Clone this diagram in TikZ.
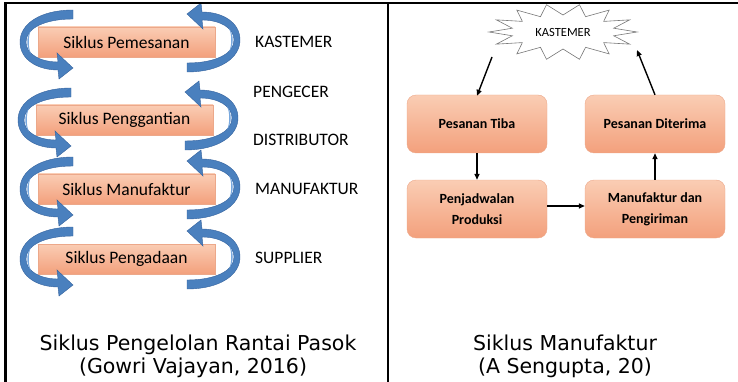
\documentclass[tikz,border=0pt]{standalone}
\usepackage{fontspec}
\setmainfont{Carlito}
\newfontfamily\capfont{DejaVu Sans}
\usetikzlibrary{arrows.meta,calc}

\definecolor{boxtop}{RGB}{250,205,180}
\definecolor{boxbot}{RGB}{243,160,124}
\definecolor{boxline}{RGB}{236,168,138}
\definecolor{ribbon}{RGB}{74,128,190}
\definecolor{ribbondark}{RGB}{52,98,158}
\definecolor{ribbonlight}{RGB}{120,168,222}
\definecolor{starline}{RGB}{120,120,120}

\tikzset{
  cyclebox/.style={draw=boxline, line width=0.4pt, top color=boxtop, bottom color=boxbot,
    minimum width=177pt, minimum height=30pt, inner sep=0pt,
    font=\fontsize{17.5}{20}\selectfont},
  actor/.style={anchor=west, inner sep=0pt, font=\fontsize{17.5}{20}\selectfont},
  flowbox/.style={draw=boxline, line width=0.4pt, rounded corners=9pt,
    top color=boxtop, bottom color=boxbot,
    minimum width=140pt, minimum height=58pt, inner sep=0pt, align=center,
    font=\fontsize{14}{21}\selectfont\bfseries},
  flow/.style={line width=1.4pt, -{Triangle[length=6pt,width=5pt]}},
  caption/.style={anchor=base, inner sep=0pt, font=\capfont\fontsize{20.5}{24}\selectfont},
  tableline/.style={line width=2.6pt, line cap=rect},
  % curved ribbon arrow running round the left end of a cycle box
  loopribbon/.pic={
    \fill[ribbon, draw=ribbondark, line width=0.4pt]
      (-57,-32) .. controls (-90,-32) and (-110,-18) .. (-110,0)
      .. controls (-110,18) and (-92,28) .. (-72,28)
      -- (-71,37) -- (-57,26) -- (-73,11) -- (-72,20)
      .. controls (-90,20) and (-104,12) .. (-104,0)
      .. controls (-104,-14) and (-85,-23) .. (-57,-23) -- cycle;
    \fill[ribbonlight]
      (-99,-12) .. controls (-104,-5) and (-104,5) .. (-99,12)
      .. controls (-102,5) and (-102,-5) .. (-99,-12) -- cycle;
  }
}

\begin{document}
\begin{tikzpicture}[x=1pt, y=-1pt]
\useasboundingbox (0,0) rectangle (738,382);

% ---- supply chain cycles ----
\node[cyclebox] (pesan) at (126.5,42) {Siklus Pemesanan};
\node[cyclebox] (ganti) at (124.5,120) {Siklus Penggantian};
\node[cyclebox] (manu)  at (126.5,189) {Siklus Manufaktur};
\node[cyclebox] (ada)   at (126.5,259) {Siklus Pengadaan};

\foreach \dx/\dy in {0/0, -2/78, 0/147, 0/217} {
  \pic at (130+\dx,42+\dy) {loopribbon};
  \pic[rotate=180] at (130+\dx,40+\dy) {loopribbon};
}

\node[actor] (kas)  at (255,42)  {KASTEMER};
\node[actor] (ecer) at (253,92)  {PENGECER};
\node[actor] (dist) at (253,140) {DISTRIBUTOR};
\node[actor] (mfk)  at (255,189) {MANUFAKTUR};
\node[actor] (sup)  at (255,258) {SUPPLIER};

% ---- manufacturing cycle ----
\coordinate (sc) at (563,32);
\draw[starline, fill=white, line width=0.6pt]
  ($(sc)+(74,0)$)
  \foreach \k [evaluate=\k as \rx using {mod(\k,2)==0 ? 74 : 52},
               evaluate=\k as \ry using {mod(\k,2)==0 ? 28 : 17},
               evaluate=\k as \ang using {\k*360/28}] in {1,...,27} {
    -- ($(sc)+({\rx*cos(\ang)},{\ry*sin(\ang)})$)
  } -- cycle;
\node[inner sep=0pt, font=\fontsize{12.5}{14}\selectfont] (kastemer) at (sc) {KASTEMER};

\node[flowbox] (tiba)   at (477,124) {Pesanan Tiba};
\node[flowbox] (terima) at (655,124) {Pesanan Diterima};
\node[flowbox] (jadwal) at (477,209) {Penjadwalan\\Produksi};
\node[flowbox] (kirim)  at (655,209) {Manufaktur dan\\Pengiriman};

\coordinate (kin)  at (492,57);
\coordinate (kout) at (637,50);
\draw[flow] (kin) -- ([yshift=-1pt]tiba.north);
\draw[flow] (terima.north) -- (kout);
\draw[flow] (tiba.south) -- (jadwal.north);
\draw[flow] ([yshift=3pt]jadwal.east) -- ([yshift=3pt]kirim.west);
\draw[flow] (kirim.north) -- (terima.south);

% ---- captions ----
\node[caption] (cap1)  at (198,350) {Siklus Pengelolan Rantai Pasok};
\node[caption] (cap1b) at (193,373) {(Gowri Vajayan, 2016)};
\node[caption] (cap2)  at (565,350) {Siklus Manufaktur};
\node[caption] (cap2b) at (565,373) {(A Sengupta, 20)};

% ---- table rules ----
\draw[tableline] (5.5,3) -- (738,3);
\draw[tableline] (5.5,3) -- (5.5,382);
\draw[tableline] (388,3) -- (388,382);
\end{tikzpicture}
\end{document}
